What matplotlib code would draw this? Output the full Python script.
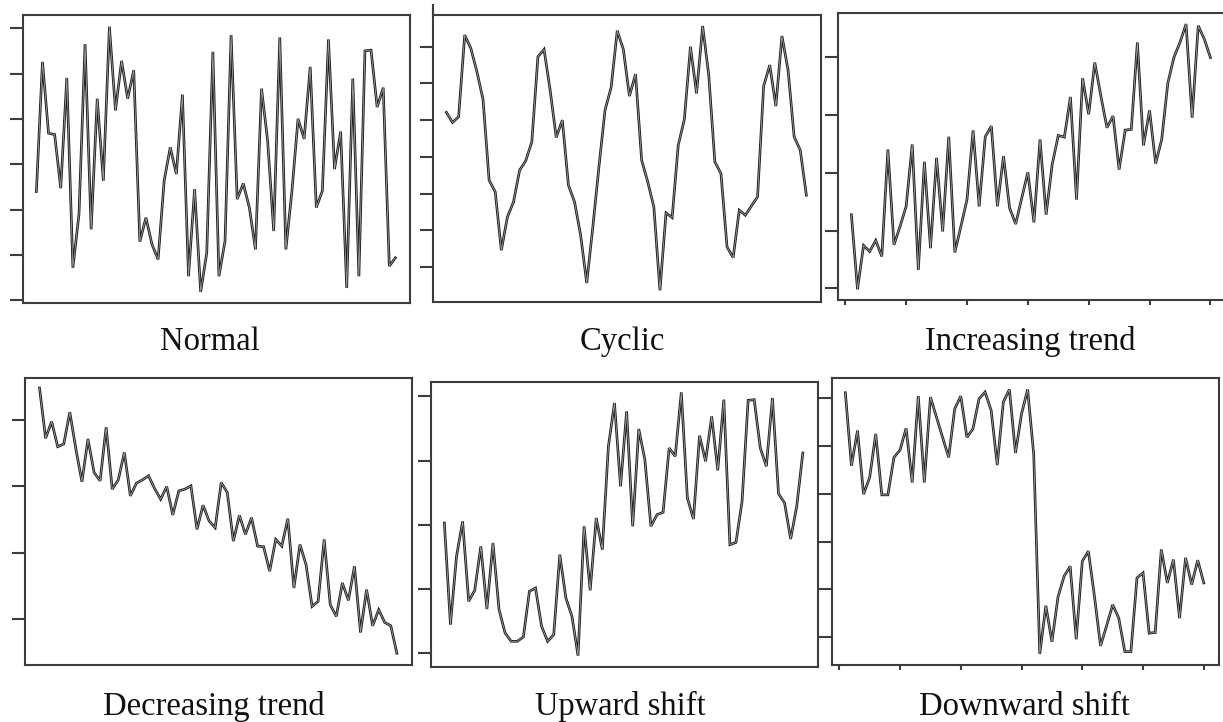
import matplotlib
matplotlib.use("Agg")
import matplotlib.pyplot as plt
import numpy as np

# six control chart patterns, 60 samples each
normal = [32.8, 71.5, 50.2, 49.8, 33.8, 66.7, 10.0, 26.0, 76.8, 21.5,
          60.5, 36.0, 82.0, 57.0, 71.8, 60.5, 69.0, 17.8, 25.0, 17.0,
          12.5, 36.0, 46.0, 38.0, 61.7, 7.5, 33.5, 2.8, 14.5, 74.5,
          7.5, 18.0, 79.5, 30.5, 35.2, 28.0, 15.5, 63.5, 48.0, 21.0,
          78.8, 15.5, 33.0, 54.5, 48.5, 70.0, 28.0, 33.0, 78.2, 39.5,
          50.7, 4.0, 66.5, 7.5, 74.8, 75.0, 58.0, 63.8, 10.5, 13.0]

cyclic = [56.3, 53.3, 55.0, 79.5, 75.5, 68.5, 60.2, 36.0, 32.5, 15.0,
          25.0, 29.5, 39.0, 41.8, 47.5, 73.0, 75.2, 63.0, 48.8, 54.0,
          34.5, 29.5, 19.5, 5.2, 22.0, 40.0, 57.0, 63.8, 80.8, 75.2,
          61.2, 67.8, 42.0, 35.5, 28.0, 3.0, 26.2, 24.8, 46.5, 54.2,
          76.0, 62.0, 82.2, 67.5, 41.5, 38.0, 16.0, 12.8, 27.0, 25.5,
          28.3, 31.0, 64.2, 70.5, 58.2, 79.2, 69.0, 49.0, 45.0, 31.5]

increasing = [25.5, 3.2, 16.3, 14.5, 17.8, 13.0, 45.0, 16.5, 22.0, 28.0,
              46.5, 9.0, 41.3, 15.5, 42.5, 20.5, 48.8, 14.2, 22.0, 30.0,
              50.7, 28.0, 48.8, 52.0, 28.0, 43.0, 27.5, 22.7, 30.5, 38.2,
              23.2, 48.0, 25.5, 40.5, 49.2, 48.7, 60.7, 30.0, 66.3, 55.5,
              71.0, 61.0, 51.5, 55.0, 39.0, 50.8, 51.0, 77.0, 46.2, 56.7,
              40.8, 48.0, 64.8, 72.5, 77.0, 82.5, 54.5, 82.0, 78.0, 72.5]

decreasing = [84.2, 69.2, 74.2, 66.7, 67.5, 77.0, 66.0, 56.2, 69.0, 59.0,
              56.5, 72.5, 54.0, 56.8, 65.0, 52.0, 55.8, 56.8, 58.0, 54.2,
              51.0, 54.8, 46.3, 53.5, 54.0, 55.0, 42.0, 49.2, 44.5, 42.5,
              56.0, 53.0, 38.5, 46.2, 40.5, 45.5, 37.0, 36.8, 29.5, 39.0,
              37.0, 45.2, 24.5, 37.5, 31.5, 19.0, 20.5, 39.0, 19.5, 16.0,
              26.0, 20.8, 31.0, 11.2, 24.0, 13.2, 18.0, 14.2, 13.2, 5.0]

upward = [44.0, 13.5, 34.0, 44.5, 20.5, 23.8, 37.0, 18.2, 38.0, 18.0,
          11.0, 8.5, 8.5, 9.8, 23.5, 24.5, 13.0, 8.5, 10.5, 34.5,
          21.5, 16.0, 4.2, 43.0, 23.8, 45.5, 36.0, 67.0, 80.0, 55.0,
          77.5, 43.0, 72.2, 63.0, 43.0, 46.5, 47.2, 66.5, 64.0, 83.2,
          51.5, 45.2, 70.2, 62.5, 76.0, 59.8, 81.0, 37.5, 38.2, 50.5,
          80.8, 81.0, 66.5, 61.0, 81.5, 52.8, 50.0, 39.2, 49.0, 65.0]

downward = [82.8, 61.0, 71.5, 52.5, 57.5, 70.5, 52.3, 52.3, 63.5, 65.7,
            72.2, 56.0, 81.8, 56.0, 81.5, 75.5, 69.5, 63.5, 78.0, 81.8,
            69.5, 72.0, 81.0, 83.0, 77.5, 61.2, 80.0, 83.8, 64.8, 76.5,
            83.8, 64.5, 4.8, 19.2, 8.4, 21.8, 28.0, 31.0, 9.2, 32.5,
            35.5, 22.0, 7.2, 13.2, 19.5, 15.5, 5.5, 5.5, 27.5, 29.0,
            11.0, 11.2, 36.0, 26.0, 33.0, 15.5, 33.5, 25.5, 32.8, 26.0]

titles = ["Normal", "Cyclic", "Increasing trend",
          "Decreasing trend", "Upward shift", "Downward shift"]
series = [normal, cyclic, increasing, decreasing, upward, downward]

W, H = 1223, 722

# layout in pixels: left, right, top, bottom of each box
boxes = [(23, 410, 15, 303), (433, 821, 15, 302), (838, 1225, 13, 300),
         (25, 412, 378, 665), (431, 818, 382, 667), (832, 1219, 378, 665)]
ylims = [(-0.5, 85.5), (-0.5, 85.5), (0.0, 85.8),
         (1.5, 87.2), (0.8, 86.3), (1.5, 87.2)]
yticks = [np.linspace(0.3, 81.5, 7), np.linspace(10, 76, 7),
          np.linspace(3.5, 72.5, 5), np.linspace(15.2, 74.7, 4),
          np.linspace(5.0, 82.0, 5), np.linspace(9.8, 81.2, 6)]
xlims = [(-1.2, 62.4), (-1.2, 62.4), (-1.2, 62.4),
         (-1.4, 62.5), (-1.2, 62.5), (-1.2, 62.5)]
show_xticks = [False, False, True, False, False, True]
label_pos = [(210, 350), (622, 350), (1030, 350),
             (214, 715), (620, 715), (1024, 715)]

spine_col = "#3c3c3c"

fig = plt.figure(figsize=(W / 100, H / 100), dpi=100)

for i, vals in enumerate(series):
    l, r, t, b = boxes[i]
    ax = fig.add_axes([l / W, 1 - b / H, (r - l) / W, (b - t) / H])
    x = np.arange(1, len(vals) + 1)
    # dark outline with a grey core, like the scanned original
    ax.plot(x, vals, color="#1a1a1a", lw=1.9, solid_joinstyle="miter")
    ax.plot(x, vals, color="#a0a0a0", lw=0.6)
    ax.set_xlim(*xlims[i])
    ax.set_ylim(*ylims[i])
    ax.set_yticks(yticks[i])
    if show_xticks[i]:
        ax.set_xticks(range(0, 61, 10))
    else:
        ax.set_xticks([])
    for s in ax.spines.values():
        s.set_color(spine_col)
        s.set_linewidth(1.5)
    if i == 1:
        # left axis line of the cyclic panel runs a bit above the box
        ax.spines["left"].set_bounds(-0.5, 88.5)
    ax.tick_params(axis="y", direction="out", length=9.5, width=1.5,
                   color=spine_col, labelleft=False)
    ax.tick_params(axis="x", direction="out", length=3.5, width=1.5,
                   color=spine_col, labelbottom=False)

    lx, ly = label_pos[i]
    fig.text(lx / W, 1 - ly / H, titles[i], ha="center", va="baseline",
             fontsize=23.5, family="Liberation Serif", color="#111111")

fig.savefig("out.png", dpi=100)
